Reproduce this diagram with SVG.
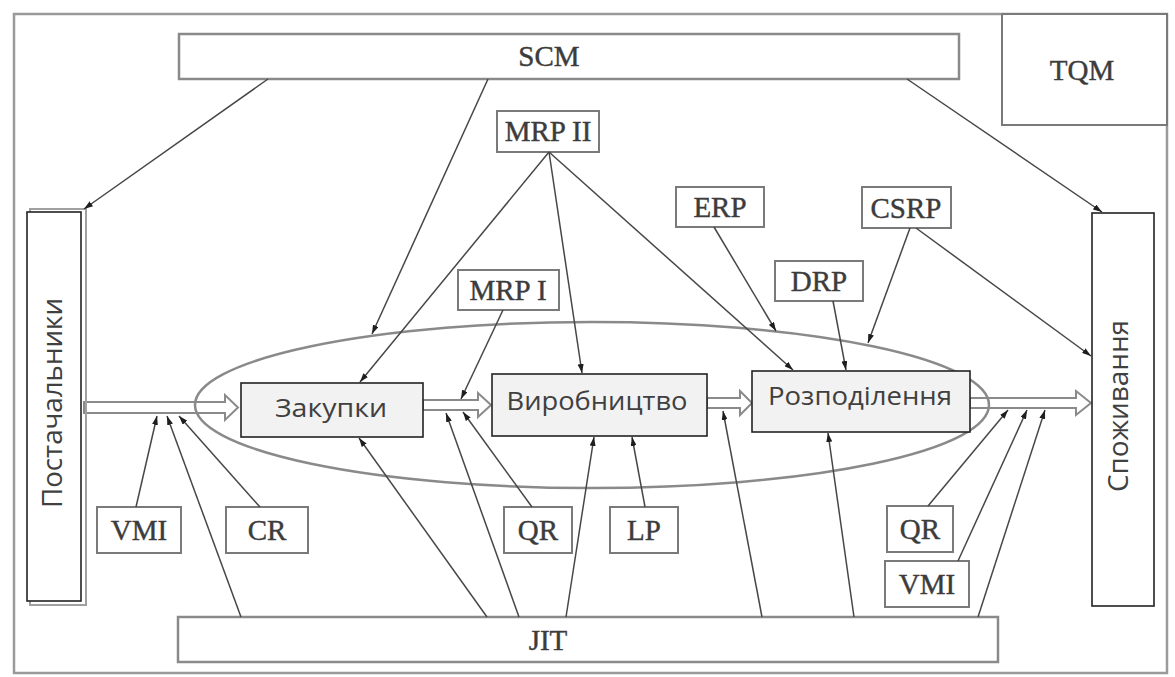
<svg xmlns="http://www.w3.org/2000/svg" width="1175" height="677" viewBox="0 0 1175 677">
<style>
.frame{fill:none;stroke:#9a9a9a;stroke-width:2.5}
.bar{fill:#fff;stroke:#8a8a8a;stroke-width:2.5}
.lbl{fill:#fff;stroke:#7a7a7a;stroke-width:2}
.ser{font-family:"Liberation Serif","Times New Roman",serif;font-size:29px;fill:#3c3c3c;stroke:#3c3c3c;stroke-width:0.4;text-anchor:middle}
.blk{fill:#f2f2f2;stroke:#222;stroke-width:1.6}
.side{fill:#fff;stroke:#222;stroke-width:1.6}
.sans{font-family:"Open Sans","Liberation Sans",sans-serif;font-size:25px;fill:#404040;text-anchor:middle}
.vert{font-family:"Open Sans","Liberation Sans",sans-serif;font-size:28px;fill:#404040;text-anchor:middle}
.flow{fill:#fff;stroke:#8a8a8a;stroke-width:2}
.ell{fill:none;stroke:#8a8a8a;stroke-width:2.5}
.con line{stroke:#474747;stroke-width:1.5;marker-end:url(#ah)}
</style>
<defs>
<marker id="ah" markerUnits="userSpaceOnUse" markerWidth="9" markerHeight="6" refX="9" refY="3" orient="auto">
<path d="M0,0 L9,3 L0,6 z" fill="#1e1e1e"/>
</marker>
</defs>
<rect width="1175" height="677" fill="#fff"/>
<rect class="frame" x="14" y="14" width="1153" height="659"/>

<g id="flow">
<polygon class="flow" points="84,402 225,402 225,395 238,407.5 225,420 225,413 84,413"/>
<polygon class="flow" points="423,400 478,400 478,393 491,405 478,417 478,410 423,410"/>
<polygon class="flow" points="707,398 740,398 740,391 752,403 740,415 740,408 707,408"/>
<polygon class="flow" points="970,398 1076,398 1076,391 1091,403 1076,415 1076,408 970,408"/>
</g>
<ellipse class="ell" cx="592" cy="405" rx="397" ry="83"/>

<g id="scm"><rect class="bar" x="179" y="34" width="780" height="45"/><text class="ser" x="549" y="66">SCM</text></g>
<g id="tqm"><rect class="lbl" x="1002" y="14" width="165" height="111"/><text class="ser" x="1082" y="80">TQM</text></g>
<g id="jit"><rect class="bar" x="178" y="617" width="820" height="45"/><text class="ser" x="548" y="650">JIT</text></g>

<g id="mrp2"><rect class="lbl" x="497" y="111" width="102" height="41"/><text class="ser" x="548" y="141">MRP II</text></g>
<g id="mrp1"><rect class="lbl" x="458" y="270" width="101" height="40"/><text class="ser" x="508" y="300">MRP I</text></g>
<g id="erp"><rect class="lbl" x="676" y="187" width="88" height="40"/><text class="ser" x="720" y="217">ERP</text></g>
<g id="csrp"><rect class="lbl" x="862" y="187" width="89" height="41"/><text class="ser" x="906" y="218">CSRP</text></g>
<g id="drp"><rect class="lbl" x="775" y="261" width="88" height="40"/><text class="ser" x="819" y="291">DRP</text></g>
<g id="vmi1"><rect class="lbl" x="97" y="507" width="84" height="46"/><text class="ser" x="139" y="540">VMI</text></g>
<g id="cr"><rect class="lbl" x="226" y="507" width="82" height="46"/><text class="ser" x="267" y="540">CR</text></g>
<g id="qr1"><rect class="lbl" x="504" y="507" width="68" height="46"/><text class="ser" x="538" y="540">QR</text></g>
<g id="lp"><rect class="lbl" x="610" y="507" width="68" height="46"/><text class="ser" x="644" y="540">LP</text></g>
<g id="qr2"><rect class="lbl" x="887" y="506" width="66" height="46"/><text class="ser" x="920" y="539">QR</text></g>
<g id="vmi2"><rect class="lbl" x="885" y="561" width="84" height="46"/><text class="ser" x="927" y="594">VMI</text></g>

<g id="suppliers">
<rect x="30" y="209" width="56" height="396" fill="none" stroke="#a0a0a0" stroke-width="2"/>
<rect class="side" x="27" y="212" width="54" height="389"/>
<text class="vert" transform="translate(62,403) rotate(-90)" textLength="210" lengthAdjust="spacingAndGlyphs">Постачальники</text>
</g>
<g id="consumption">
<rect class="side" x="1092" y="213" width="62" height="393"/>
<text class="vert" transform="translate(1128,406) rotate(-90)" textLength="172" lengthAdjust="spacingAndGlyphs">Споживання</text>
</g>
<g id="purchase"><rect class="blk" x="241" y="383" width="182" height="54"/><text class="sans" x="331" y="417" textLength="112" lengthAdjust="spacingAndGlyphs">Закупки</text></g>
<g id="production"><rect class="blk" x="492" y="374" width="215" height="62"/><text class="sans" x="597" y="410" textLength="181" lengthAdjust="spacingAndGlyphs">Виробництво</text></g>
<g id="distribution"><rect class="blk" x="752" y="371" width="218" height="61"/><text class="sans" x="860" y="405" textLength="184" lengthAdjust="spacingAndGlyphs">Розподілення</text></g>

<g id="connectors" class="con">
<line x1="268" y1="79" x2="84" y2="209"/>
<line x1="488" y1="79" x2="372" y2="334"/>
<line x1="907" y1="79" x2="1102" y2="212"/>
<line x1="549" y1="152" x2="360" y2="382"/>
<line x1="549" y1="152" x2="582" y2="373"/>
<line x1="549" y1="152" x2="793" y2="370"/>
<line x1="503" y1="310" x2="461" y2="399"/>
<line x1="714" y1="227" x2="776" y2="331"/>
<line x1="833" y1="301" x2="846" y2="370"/>
<line x1="910" y1="228" x2="868" y2="343"/>
<line x1="916" y1="228" x2="1091" y2="356"/>
<line x1="136" y1="507" x2="157" y2="416"/>
<line x1="241" y1="617" x2="167" y2="416"/>
<line x1="260" y1="507" x2="179" y2="416"/>
<line x1="487" y1="617" x2="359" y2="438"/>
<line x1="519" y1="617" x2="446" y2="413"/>
<line x1="532" y1="507" x2="463" y2="412"/>
<line x1="566" y1="617" x2="594" y2="437"/>
<line x1="645" y1="507" x2="632" y2="437"/>
<line x1="762" y1="617" x2="723" y2="411"/>
<line x1="854" y1="617" x2="828" y2="433"/>
<line x1="928" y1="506" x2="1008" y2="410"/>
<line x1="958" y1="561" x2="1027" y2="410"/>
<line x1="978" y1="617" x2="1045" y2="410"/>
</g>
</svg>
